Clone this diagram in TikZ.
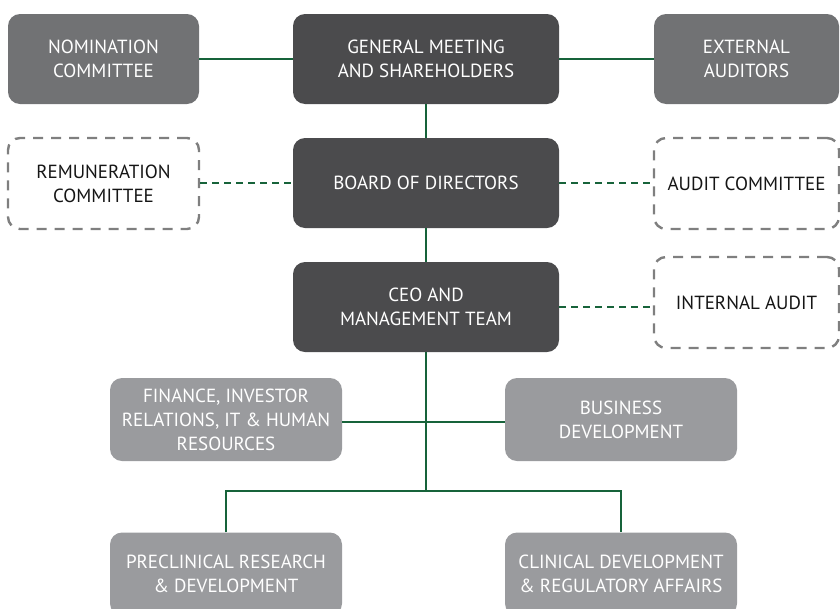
\documentclass[tikz,border=0pt]{standalone}
\usepackage{fontspec}
\setmainfont{PT Sans}
\definecolor{boxdark}{HTML}{4B4B4D}
\definecolor{boxmid}{HTML}{717274}
\definecolor{boxlight}{HTML}{9A9B9E}
\definecolor{linkgreen}{HTML}{17633A}
\definecolor{dashgray}{HTML}{7F7F7F}
\definecolor{inktext}{HTML}{151515}
\tikzset{
  orgbox/.style={rounded corners=12pt, align=center, inner sep=0pt,
    font=\fontsize{19}{24}\selectfont, text=white},
  darkbox/.style={orgbox, fill=boxdark, minimum width=266pt, minimum height=90pt},
  midbox/.style={orgbox, fill=boxmid, minimum width=191pt, minimum height=90pt},
  lightbox/.style={orgbox, fill=boxlight, minimum width=232pt, minimum height=83pt},
  dashbox/.style={orgbox, text=inktext, draw=dashgray, line width=2.4pt,
    dash pattern=on 10pt off 8pt, minimum height=91pt},
  link/.style={draw=linkgreen, line width=2.6pt},
  dashlink/.style={link, dash pattern=on 7pt off 5pt}
}
\begin{document}
\begin{tikzpicture}[x=1pt, y=-1pt]
  \path[use as bounding box] (0,0) rectangle (840,608);
  \clip (0,0) rectangle (840,608);

  % top row
  \node[midbox]  (nom) at (103.5,59) {NOMINATION\\COMMITTEE};
  \node[darkbox] (gm)  at (426,59)   {GENERAL MEETING\\AND SHAREHOLDERS};
  \node[midbox, minimum width=185pt] (ext) at (746.5,59) {EXTERNAL\\AUDITORS};

  % board row
  \node[dashbox, minimum width=191pt] (rem) at (103.5,183.5) {REMUNERATION\\COMMITTEE};
  \node[darkbox] (board) at (426,183) {BOARD OF DIRECTORS};
  \node[dashbox, minimum width=185pt] (audit) at (746.5,183.5) {AUDIT COMMITTEE};

  % management row
  \node[darkbox] (ceo) at (426,307) {CEO AND\\MANAGEMENT TEAM};
  \node[dashbox, minimum width=185pt] (intaudit) at (746.5,302.5) {INTERNAL AUDIT};

  % functions
  \node[lightbox] (fin) at (226,419.5) {FINANCE, INVESTOR\\RELATIONS, IT \& HUMAN\\RESOURCES};
  \node[lightbox] (bd)  at (621,419.5) {BUSINESS\\DEVELOPMENT};
  \node[lightbox] (pre) at (226,574)   {PRECLINICAL RESEARCH\\\& DEVELOPMENT};
  \node[lightbox] (cli) at (621,574)   {CLINICAL DEVELOPMENT\\\& REGULATORY AFFAIRS};

  \coordinate (bar) at (0,491);

  % connectors
  \draw[link] (nom.east) -- (gm.west);
  \draw[link] (gm.east) -- (ext.west);
  \draw[link] (gm.south) -- (board.north);
  \draw[link] (board.south) -- (ceo.north);
  \draw[dashlink] (rem.east |- board.west) -- (board.west);
  \draw[dashlink] (board.east) -- (audit.west |- board.east);
  \draw[dashlink] (ceo.east) -- (intaudit.west |- ceo.east);
  \draw[link] (ceo.south) -- (ceo.south |- bar);
  \draw[link] (fin.east |- 0,422) -- (bd.west |- 0,422);
  \draw[link] (pre.north) -- (pre.north |- bar) -- (cli.north |- bar) -- (cli.north);
\end{tikzpicture}
\end{document}
